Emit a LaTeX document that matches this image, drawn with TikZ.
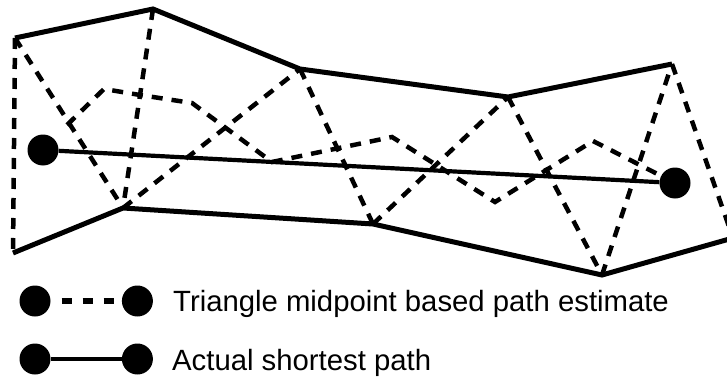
\documentclass[tikz,border=0pt]{standalone}
\usepackage{fontspec}
\setmainfont{Liberation Sans}
\usetikzlibrary{positioning}

\begin{document}
\begin{tikzpicture}[
  x=1pt,
  y=-1pt,
  node distance=71pt and 71pt,
  wall/.style={line width=5pt},
  diag/.style={line width=4.5pt, dash pattern=on 11pt off 9pt},
  route/.style={line width=4.5pt, dash pattern=on 11pt off 9pt},
  shortest/.style={line width=4.2pt},
  dot/.style={circle, fill=black, inner sep=0pt, minimum size=31pt},
  legdot/.style={circle, fill=black, inner sep=0pt, minimum size=31pt},
  legtext/.style={font=\fontsize{29.3}{34}\selectfont, anchor=base west, inner sep=0pt}
]
\useasboundingbox (0,0) rectangle (727,377);

% corridor vertices
\coordinate (t1) at (15,38);
\coordinate (t2) at (153,9);
\coordinate (t3) at (300,69);
\coordinate (t4) at (508,97);
\coordinate (t5) at (672,64);
\coordinate (b1) at (13,253);
\coordinate (b2) at (123,208);
\coordinate (b3) at (373,224);
\coordinate (b4) at (602,275);
\coordinate (b5) at (733,238);

% estimate route
\coordinate (m1) at (67,125);
\coordinate (m2) at (104,89);
\coordinate (m3) at (140,95);
\coordinate (m4) at (192,103);
\coordinate (m5) at (272,162);
\coordinate (m6) at (392,137);
\coordinate (m7) at (495,202);
\coordinate (m8) at (593,141);

\node[dot] (start) at (43,150) {};
\node[dot] (goal) at (675,183) {};

\draw[wall] (t1) -- (t2) -- (t3) -- (t4) -- (t5);
\draw[wall] (b1) -- (b2) -- (b3) -- (b4) -- (b5);

\draw[diag] (t1) -- (b1);
\draw[diag] (t1) -- (b2);
\draw[diag] (t2) -- (b2);
\draw[diag] (b2) -- (t3);
\draw[diag] (t3) -- (b3);
\draw[diag] (b3) -- (t4);
\draw[diag] (t4) -- (b4);
\draw[diag] (b4) -- (t5);
\draw[diag] (t5) -- (b5);

\draw[route] (m1) -- (m2) -- (m3) -- (m4) -- (m5) -- (m6) -- (m7) -- (m8) -- (goal);
\draw[shortest] (start) -- (goal);

% legend
\node[legdot] (la1) at (35,301) {};
\node[legdot, right=of la1] (lb1) {};
\draw[line width=6pt, dash pattern=on 10pt off 11pt, dash phase=10pt] (la1) -- (lb1);
\node[legtext] (lt1) at (173,311) {Triangle midpoint based path estimate};

\node[legdot] (la2) at (35,359) {};
\node[legdot, right=of la2] (lb2) {};
\draw[line width=4pt] (la2) -- (lb2);
\node[legtext] (lt2) at (172,370) {Actual shortest path};

\end{tikzpicture}
\end{document}
